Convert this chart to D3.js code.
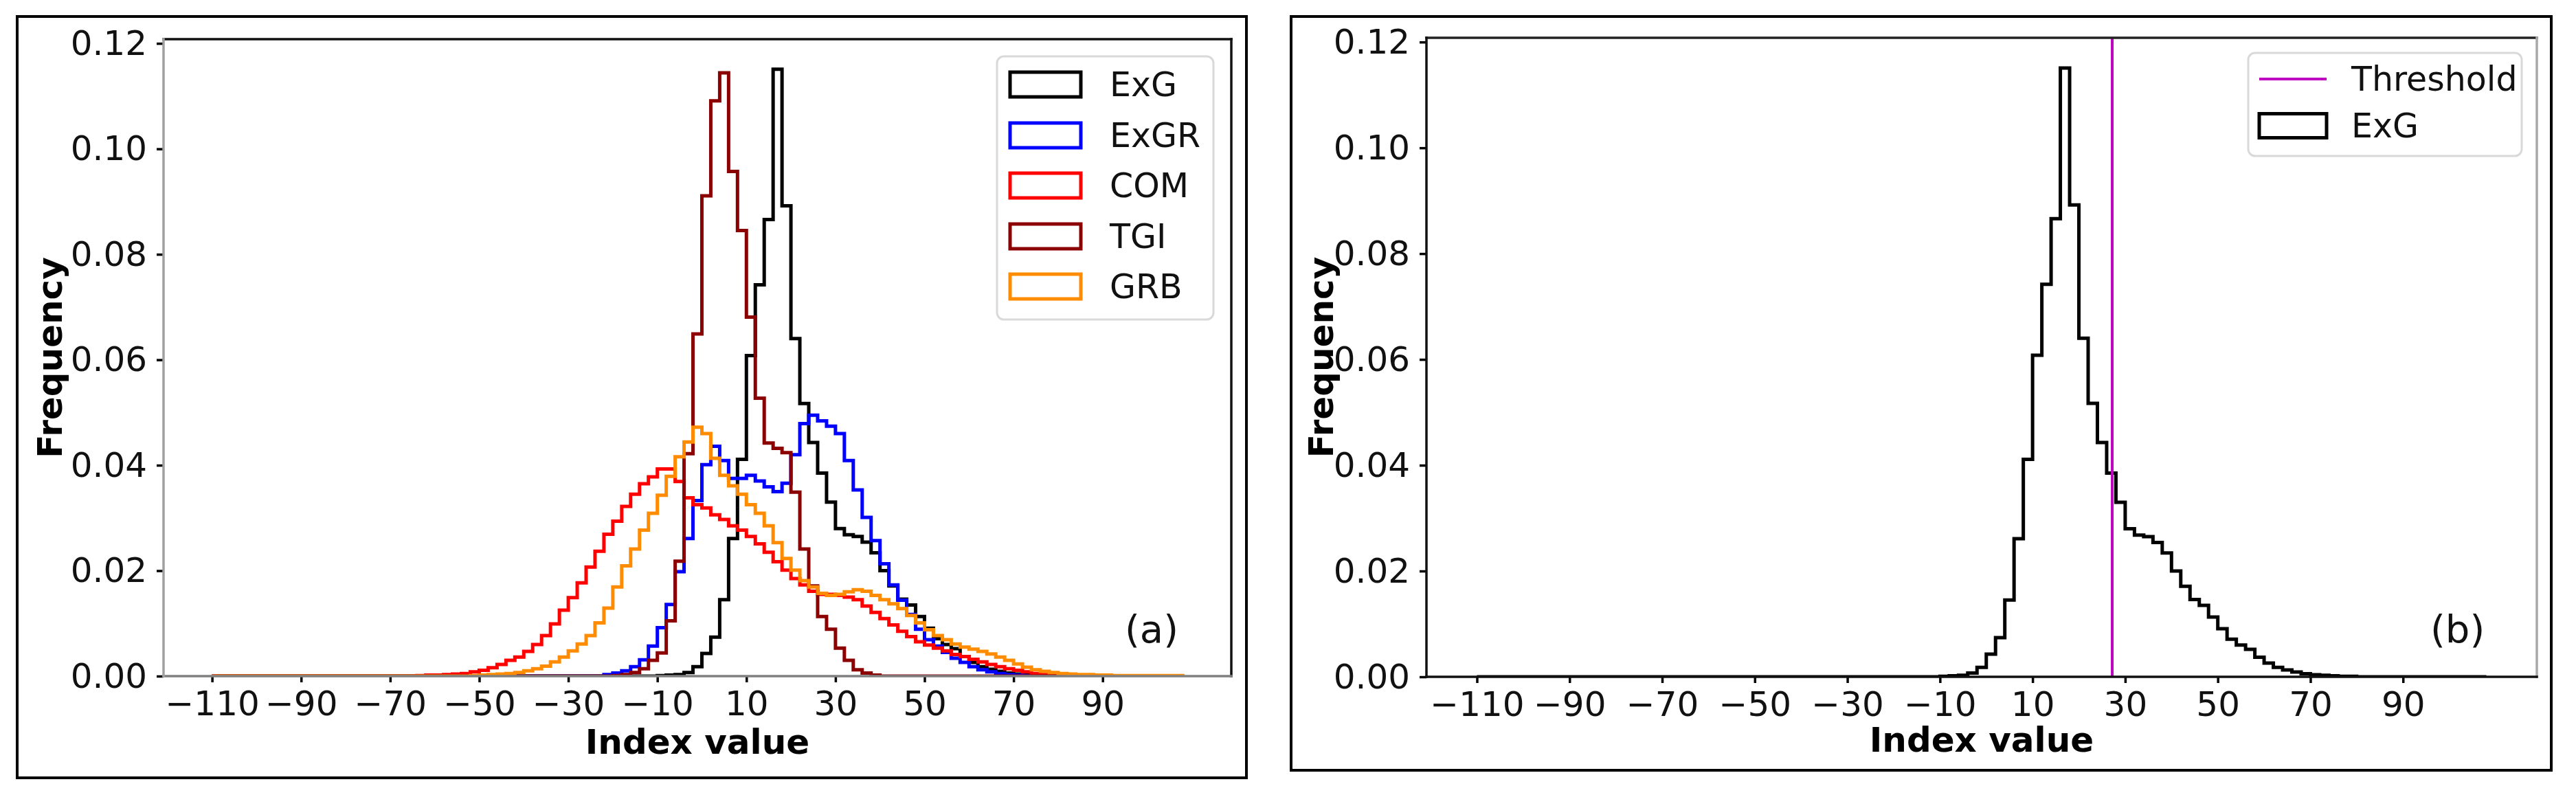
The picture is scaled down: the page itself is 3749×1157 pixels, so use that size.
<!DOCTYPE html>
<html>
<head>
<meta charset="utf-8">
<script src="https://cdnjs.cloudflare.com/ajax/libs/d3/7.8.5/d3.min.js"></script>
<style>
  body { margin: 0; background: #fff; }
  svg { display: block; }
</style>
</head>
<body>
<div id="chart"></div>
<script>
// bins are 2 wide, edges -110 ... 108
var binEdges = d3.range(-110, 109, 2);

// frequencies, first bin starts at *Start
var exgStart = -10;
var exgFreq = [0.0001, 0.0002, 0.0003, 0.0007, 0.0018, 0.0043, 0.0074, 0.0145, 0.0261, 0.0411,
  0.0608, 0.0742, 0.0866, 0.1151, 0.0892, 0.0640, 0.0517, 0.0443, 0.0385, 0.0330,
  0.0280, 0.0268, 0.0265, 0.0254, 0.0234, 0.0200, 0.0171, 0.0146, 0.0135, 0.0113,
  0.0091, 0.0071, 0.0060, 0.0052, 0.0037, 0.0026, 0.0018, 0.0013, 0.0009, 0.0006,
  0.0004, 0.0003, 0.0002, 0.0001, 0.0001];

var exgrStart = -22;
var exgrFreq = [0.0003, 0.0006, 0.0010, 0.0018, 0.0031, 0.0057, 0.0092, 0.0136, 0.0198, 0.0261,
  0.0333, 0.0401, 0.0436, 0.0409, 0.0375, 0.0375, 0.0381, 0.0370, 0.0359, 0.0350,
  0.0366, 0.0420, 0.0479, 0.0495, 0.0484, 0.0474, 0.0460, 0.0409, 0.0353, 0.0301,
  0.0257, 0.0213, 0.0173, 0.0144, 0.0117, 0.0089, 0.0069, 0.0057, 0.0045, 0.0034,
  0.0026, 0.0018, 0.0012, 0.0008, 0.0005, 0.0003, 0.0002, 0.0001];

var comStart = -64;
var comFreq = [0.0001, 0.0002, 0.0002, 0.0003, 0.0004, 0.0005, 0.0008, 0.0011, 0.0016, 0.0022,
  0.0030, 0.0036, 0.0047, 0.0060, 0.0077, 0.0099, 0.0125, 0.0149, 0.0177, 0.0207,
  0.0237, 0.0269, 0.0294, 0.0322, 0.0345, 0.0365, 0.0378, 0.0393, 0.0393, 0.0369,
  0.0338, 0.0325, 0.0319, 0.0306, 0.0297, 0.0285, 0.0277, 0.0265, 0.0251, 0.0235,
  0.0217, 0.0201, 0.0185, 0.0173, 0.0161, 0.0155, 0.0155, 0.0153, 0.0150, 0.0145,
  0.0133, 0.0121, 0.0109, 0.0097, 0.0085, 0.0075, 0.0065, 0.0059, 0.0053, 0.0048,
  0.0041, 0.0037, 0.0032, 0.0027, 0.0022, 0.0018, 0.0014, 0.0011, 0.0008, 0.0005,
  0.0003, 0.0002, 0.0001];

var tgiStart = -20;
var tgiFreq = [0.0001, 0.0003, 0.0007, 0.0014, 0.0030, 0.0044, 0.0105, 0.0218, 0.0422, 0.0649,
  0.0911, 0.1091, 0.1144, 0.0957, 0.0845, 0.0681, 0.0527, 0.0442, 0.0432, 0.0424,
  0.0349, 0.0241, 0.0171, 0.0113, 0.0089, 0.0053, 0.0030, 0.0012, 0.0006, 0.0002];

var grbStart = -52;
var grbFreq = [0.0001, 0.0002, 0.0003, 0.0004, 0.0005, 0.0007, 0.0010, 0.0014, 0.0019, 0.0027,
  0.0036, 0.0048, 0.0061, 0.0077, 0.0101, 0.0129, 0.0169, 0.0209, 0.0241, 0.0277,
  0.0309, 0.0343, 0.0379, 0.0416, 0.0444, 0.0472, 0.0460, 0.0413, 0.0381, 0.0361,
  0.0345, 0.0325, 0.0309, 0.0285, 0.0253, 0.0223, 0.0201, 0.0181, 0.0169, 0.0157,
  0.0153, 0.0155, 0.0160, 0.0164, 0.0161, 0.0153, 0.0145, 0.0137, 0.0128, 0.0115,
  0.0101, 0.0088, 0.0077, 0.0069, 0.0061, 0.0055, 0.0051, 0.0047, 0.0042, 0.0036,
  0.0030, 0.0023, 0.0017, 0.0012, 0.0009, 0.0007, 0.0005, 0.0004, 0.0003, 0.0003,
  0.0002, 0.0002, 0.0001, 0.0001, 0.0001, 0.0001, 0.0001, 0.0001, 0.0001, 0.0001];

var threshold = 27.2;

var xTicks = d3.range(-110, 91, 20);
var yTicks = [0, 0.02, 0.04, 0.06, 0.08, 0.10, 0.12];

var seriesA = [
  { name: 'ExG', color: '#000000', start: exgStart, freq: exgFreq },
  { name: 'ExGR', color: '#0000ff', start: exgrStart, freq: exgrFreq },
  { name: 'COM', color: '#ff0000', start: comStart, freq: comFreq },
  { name: 'TGI', color: '#8b0000', start: tgiStart, freq: tgiFreq },
  { name: 'GRB', color: '#ff8c00', start: grbStart, freq: grbFreq }
];
var seriesB = [seriesA[0]];

var W = 3749, H = 1157;
var font = 'DejaVu Sans';

var svg = d3.select('#chart').append('svg')
  .attr('width', W)
  .attr('height', H);

svg.append('rect').attr('width', W).attr('height', H).attr('fill', '#fff');

// spread a series over all bins (empty bins are 0)
var fullBins = function (s) {
  return binEdges.slice(0, -1).map(function (e) {
    var k = (e - s.start) / 2;
    return (k >= 0 && k < s.freq.length) ? s.freq[k] : 0;
  });
};

var stepPoints = function (vals) {
  var pts = [[binEdges[0], 0]];
  vals.forEach(function (v, i) {
    pts.push([binEdges[i], v]);
    pts.push([binEdges[i + 1], v]);
  });
  pts.push([binEdges[binEdges.length - 1], 0]);
  return pts;
};

var drawPanel = function (p) {
  var span = binEdges[binEdges.length - 1] - binEdges[0];
  var x = d3.scaleLinear()
    .domain([binEdges[0] - span * 0.05, binEdges[binEdges.length - 1] + span * 0.05])
    .range([p.x0, p.x1]);
  var y = d3.scaleLinear().domain([0, 0.1208]).range([p.y1, p.y0]);

  // outer frame around the panel
  svg.append('rect')
    .attr('x', p.frame[0]).attr('y', p.frame[1])
    .attr('width', p.frame[2]).attr('height', p.frame[3])
    .attr('fill', 'none')
    .attr('stroke', '#000')
    .attr('stroke-width', 4);

  var clipId = 'clip-' + p.id;
  svg.append('clipPath').attr('id', clipId)
    .append('rect')
    .attr('x', p.x0).attr('y', p.y0)
    .attr('width', p.x1 - p.x0).attr('height', p.y1 - p.y0);

  var plot = svg.append('g').attr('clip-path', 'url(#' + clipId + ')');

  var line = d3.line()
    .x(function (d) { return x(d[0]); })
    .y(function (d) { return y(d[1]); });

  plot.selectAll('path.hist')
    .data(p.series)
    .enter()
    .append('path')
    .classed('hist', true)
    .attr('d', function (s) { return line(stepPoints(fullBins(s))); })
    .attr('fill', 'none')
    .attr('stroke', function (s) { return s.color; })
    .attr('stroke-width', 5)
    .attr('stroke-linejoin', 'miter');

  if (p.threshold !== undefined) {
    plot.append('line')
      .attr('x1', x(p.threshold)).attr('x2', x(p.threshold))
      .attr('y1', p.y0).attr('y2', p.y1)
      .attr('stroke', '#c000c0')
      .attr('stroke-width', 4);
  }

  // axes
  var gx = svg.append('g')
    .attr('transform', 'translate(0,' + p.y1 + ')')
    .call(d3.axisBottom(x).tickValues(xTicks).tickFormat(d3.format('d'))
      .tickSize(9).tickPadding(12));
  var gy = svg.append('g')
    .attr('transform', 'translate(' + p.x0 + ',0)')
    .call(d3.axisLeft(y).tickValues(yTicks).tickFormat(d3.format('.2f'))
      .tickSize(10).tickPadding(14));
  [gx, gy].forEach(function (g) {
    g.select('.domain').remove();
    g.attr('font-size', 50).attr('font-family', font);
    g.selectAll('line').attr('stroke', '#000').attr('stroke-width', 3.5);
    g.selectAll('text').attr('fill', '#111');
  });

  // spines
  var spines = [
    [p.x0, p.y0, p.x1, p.y0, p.spine.top],
    [p.x1, p.y0, p.x1, p.y1, p.spine.right],
    [p.x0, p.y1, p.x1, p.y1, p.spine.bottom],
    [p.x0, p.y0, p.x0, p.y1, p.spine.left]
  ];
  svg.selectAll('line.spine-' + p.id)
    .data(spines)
    .enter()
    .append('line')
    .attr('x1', function (d) { return d[0]; })
    .attr('y1', function (d) { return d[1]; })
    .attr('x2', function (d) { return d[2]; })
    .attr('y2', function (d) { return d[3]; })
    .attr('stroke', function (d) { return d[4]; })
    .attr('stroke-width', 3.5)
    .attr('stroke-linecap', 'square');

  // axis titles
  svg.append('text')
    .attr('x', (p.x0 + p.x1) / 2)
    .attr('y', p.xLabelY)
    .attr('text-anchor', 'middle')
    .attr('font-family', font)
    .attr('font-weight', 'bold')
    .attr('font-size', 50)
    .text('Index value');

  svg.append('text')
    .attr('transform', 'translate(' + p.yLabelX + ',' + (p.y0 + p.y1) / 2 + ') rotate(-90)')
    .attr('text-anchor', 'middle')
    .attr('font-family', font)
    .attr('font-weight', 'bold')
    .attr('font-size', 50)
    .text('Frequency');

  svg.append('text')
    .attr('x', p.tag[0]).attr('y', p.tag[1])
    .attr('font-family', font)
    .attr('font-size', 56)
    .attr('fill', '#111')
    .text(p.tag[2]);

  // legend
  var L = p.legend;
  svg.append('rect')
    .attr('x', L.x).attr('y', L.y)
    .attr('width', L.w).attr('height', L.h)
    .attr('rx', 10)
    .attr('fill', '#fff')
    .attr('fill-opacity', 0.8)
    .attr('stroke', '#d9d9d9')
    .attr('stroke-width', 3);

  var items = svg.selectAll('g.leg-' + p.id)
    .data(L.items)
    .enter()
    .append('g')
    .attr('transform', function (d, i) { return 'translate(' + L.markX + ',' + L.rows[i] + ')'; });

  items.each(function (d) {
    var g = d3.select(this);
    if (d.kind === 'line') {
      g.append('line')
        .attr('x1', 0).attr('x2', L.markW)
        .attr('y1', 0).attr('y2', 0)
        .attr('stroke', d.color)
        .attr('stroke-width', 4);
    } else {
      g.append('rect')
        .attr('x', 0).attr('y', -L.markH / 2)
        .attr('width', L.markW).attr('height', L.markH)
        .attr('fill', 'none')
        .attr('stroke', d.color)
        .attr('stroke-width', 5);
    }
    g.append('text')
      .attr('x', L.textDx)
      .attr('y', 17)
      .attr('font-family', font)
      .attr('font-size', 49)
      .attr('fill', '#111')
      .text(d.name);
  });
};

drawPanel({
  id: 'a',
  x0: 238, x1: 1792, y0: 57, y1: 984,
  frame: [25, 24, 1789, 1108],
  spine: { top: '#111', right: '#111', bottom: '#808080', left: '#a0a0a0' },
  series: seriesA,
  xLabelY: 1097,
  yLabelX: 90,
  tag: [1637, 935, '(a)'],
  legend: {
    x: 1451, y: 82, w: 315, h: 383,
    markX: 1470, markW: 103, markH: 36, textDx: 145,
    rows: [123, 197, 270, 344, 417],
    items: seriesA.map(function (s) { return { name: s.name, color: s.color, kind: 'patch' }; })
  }
});

drawPanel({
  id: 'b',
  x0: 2076, x1: 3692, y0: 55, y1: 985,
  frame: [1879, 24, 1834, 1097],
  spine: { top: '#222', right: '#a8a8a8', bottom: '#111', left: '#111' },
  series: seriesB,
  threshold: threshold,
  xLabelY: 1094,
  yLabelX: 1940,
  tag: [3537, 935, '(b)'],
  legend: {
    x: 3272, y: 77, w: 398, h: 150,
    markX: 3288, markW: 98, markH: 35, textDx: 134,
    rows: [115, 183],
    items: [
      { name: 'Threshold', color: '#c000c0', kind: 'line' },
      { name: 'ExG', color: '#000000', kind: 'patch' }
    ]
  }
});
</script>
</body>
</html>
